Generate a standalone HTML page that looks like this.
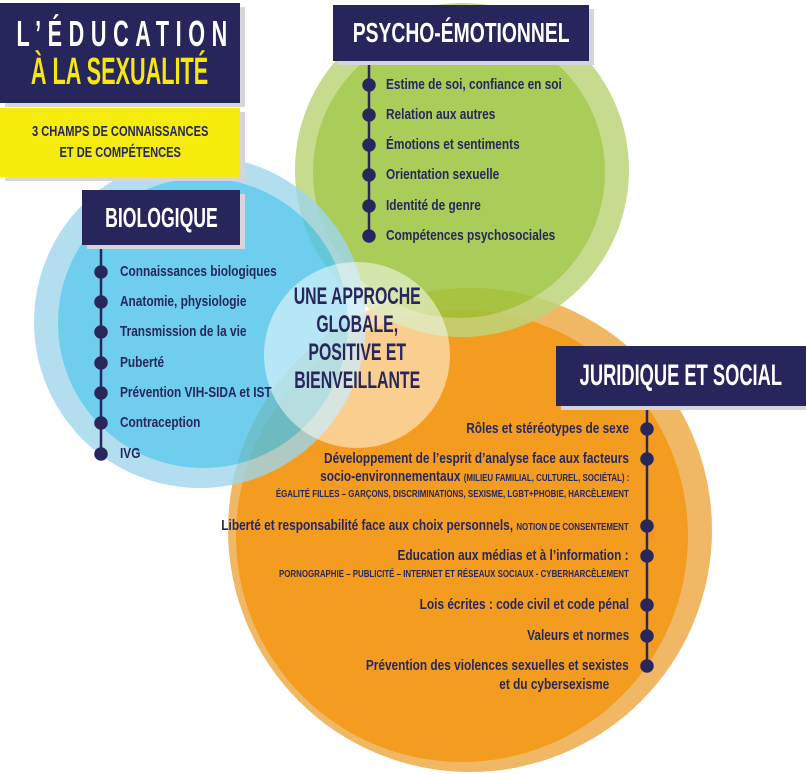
<!DOCTYPE html>
<html><head><meta charset="utf-8"><style>
body{margin:0;width:806px;height:774px;overflow:hidden;background:#fff;position:relative;font-family:"Liberation Sans",sans-serif;font-weight:bold;}
svg{position:absolute;left:0;top:0}
.t{position:absolute;color:#27275c;white-space:nowrap;font-size:15px;line-height:16px;transform:scaleX(.79);transform-origin:left center}
.r{transform-origin:right center}
.box{position:absolute;background:#26265c;color:#fff;box-shadow:5px 4px 0 #d6d6da;display:flex;align-items:center;justify-content:center;white-space:nowrap}
.n{display:inline-block;transform-origin:center}
.sm{font-size:10px}
</style></head><body>
<svg width="806" height="774">
<circle cx="470" cy="530" r="242" fill="#f0b864"/>
<circle cx="462" cy="536" r="226" fill="#f39c1f"/>
<g opacity="0.85">
<circle cx="462" cy="170" r="167" fill="#bdd57a"/>
<circle cx="459" cy="172" r="146" fill="#9cc43c"/>
</g>
<g opacity="0.8">
<circle cx="200" cy="322" r="166" fill="#9fd6ec"/>
<circle cx="203" cy="323" r="145" fill="#4cc3ea"/>
</g>
<circle cx="357" cy="355" r="93" fill="#fff" opacity="0.5"/>
<g stroke="#27275c" stroke-width="2.5" fill="#27275c">
<line x1="101" y1="245" x2="101" y2="455"/>
<circle cx="101" cy="272" r="5.5"/><circle cx="101" cy="302" r="5.5"/><circle cx="101" cy="332" r="5.5"/><circle cx="101" cy="363" r="5.5"/><circle cx="101" cy="393" r="5.5"/><circle cx="101" cy="423" r="5.5"/><circle cx="101" cy="454" r="5.5"/>
<line x1="369" y1="60" x2="369" y2="237"/>
<circle cx="369" cy="85" r="5.5"/><circle cx="369" cy="115" r="5.5"/><circle cx="369" cy="145" r="5.5"/><circle cx="369" cy="175" r="5.5"/><circle cx="369" cy="206" r="5.5"/><circle cx="369" cy="236" r="5.5"/>
<line x1="647" y1="406" x2="647" y2="667"/>
<circle cx="647" cy="429" r="5.5"/><circle cx="647" cy="459" r="5.5"/><circle cx="647" cy="526" r="5.5"/><circle cx="647" cy="556" r="5.5"/><circle cx="647" cy="605" r="5.5"/><circle cx="647" cy="636" r="5.5"/><circle cx="647" cy="666" r="5.5"/>
</g>
</svg>
<div class="box" style="left:0;top:3px;width:240px;height:100px;flex-direction:column">
<div style="font-size:36px;line-height:38px;height:38px"><span class="n" style="transform:scaleX(.6);letter-spacing:11px;margin-left:11px">L’ÉDUCATION</span></div>
<div style="font-size:38px;line-height:38px;height:38px;color:#f6e70f"><span class="n" style="transform:scaleX(.57)">À LA SEXUALITÉ</span></div></div>
<div style="position:absolute;left:0;top:108px;width:240px;height:69px;background:#f6ec0c;box-shadow:5px 4px 0 #d6d6da;color:#27275c;font-size:15px;line-height:21px;text-align:center;padding-top:13px;box-sizing:border-box;white-space:nowrap"><span class="n" style="transform:scaleX(.74)">3 CHAMPS DE CONNAISSANCES<br>ET DE COMPÉTENCES</span></div>
<div class="box" style="left:333px;top:5px;width:256px;height:56px;font-size:28px"><span class="n" style="transform:scaleX(.69)">PSYCHO-ÉMOTIONNEL</span></div>
<div class="box" style="left:82px;top:190px;width:158px;height:55px;font-size:28px"><span class="n" style="transform:scaleX(.63)">BIOLOGIQUE</span></div>
<div class="box" style="left:556px;top:346px;width:250px;height:60px;font-size:30px"><span class="n" style="transform:scaleX(.61)">JURIDIQUE ET SOCIAL</span></div>
<div class="t" style="left:120px;top:264px">Connaissances biologiques</div>
<div class="t" style="left:120px;top:294px">Anatomie, physiologie</div>
<div class="t" style="left:120px;top:324px">Transmission de la vie</div>
<div class="t" style="left:120px;top:355px">Puberté</div>
<div class="t" style="left:120px;top:385px">Prévention VIH-SIDA et IST</div>
<div class="t" style="left:120px;top:415px">Contraception</div>
<div class="t" style="left:120px;top:446px">IVG</div>
<div class="t" style="left:386px;top:77px">Estime de soi, confiance en soi</div>
<div class="t" style="left:386px;top:107px">Relation aux autres</div>
<div class="t" style="left:386px;top:137px">Émotions et sentiments</div>
<div class="t" style="left:386px;top:167px">Orientation sexuelle</div>
<div class="t" style="left:386px;top:198px">Identité de genre</div>
<div class="t" style="left:386px;top:228px">Compétences psychosociales</div>
<div style="position:absolute;left:257px;top:283px;width:200px;text-align:center;font-size:24px;line-height:28px;color:#27275c;white-space:nowrap"><span class="n" style="transform:scaleX(.66)">UNE APPROCHE<br>GLOBALE,<br>POSITIVE ET<br>BIENVEILLANTE</span></div>
<div class="t r" style="right:177px;top:421px">Rôles et stéréotypes de sexe</div>
<div class="t r" style="right:177px;top:451px">Développement de l’esprit d’analyse face aux facteurs</div>
<div class="t r" style="right:177px;top:469px">socio-environnementaux <span class="sm">(MILIEU FAMILIAL, CULTUREL, SOCIÉTAL) :</span></div>
<div class="t r sm" style="right:177px;top:487px">ÉGALITÉ FILLES – GARÇONS, DISCRIMINATIONS, SEXISME, LGBT+PHOBIE, HARCÈLEMENT</div>
<div class="t r" style="right:177px;top:518px">Liberté et responsabilité face aux choix personnels, <span class="sm">NOTION DE CONSENTEMENT</span></div>
<div class="t r" style="right:177px;top:548px">Education aux médias et à l’information :</div>
<div class="t r sm" style="right:177px;top:567px">PORNOGRAPHIE – PUBLICITÉ – INTERNET ET RÉSEAUX SOCIAUX - CYBERHARCÈLEMENT</div>
<div class="t r" style="right:177px;top:597px">Lois écrites : code civil et code pénal</div>
<div class="t r" style="right:177px;top:628px">Valeurs et normes</div>
<div class="t r" style="right:177px;top:658px">Prévention des violences sexuelles et sexistes</div>
<div class="t r" style="right:197px;top:677px">et du cybersexisme</div>
</body></html>
